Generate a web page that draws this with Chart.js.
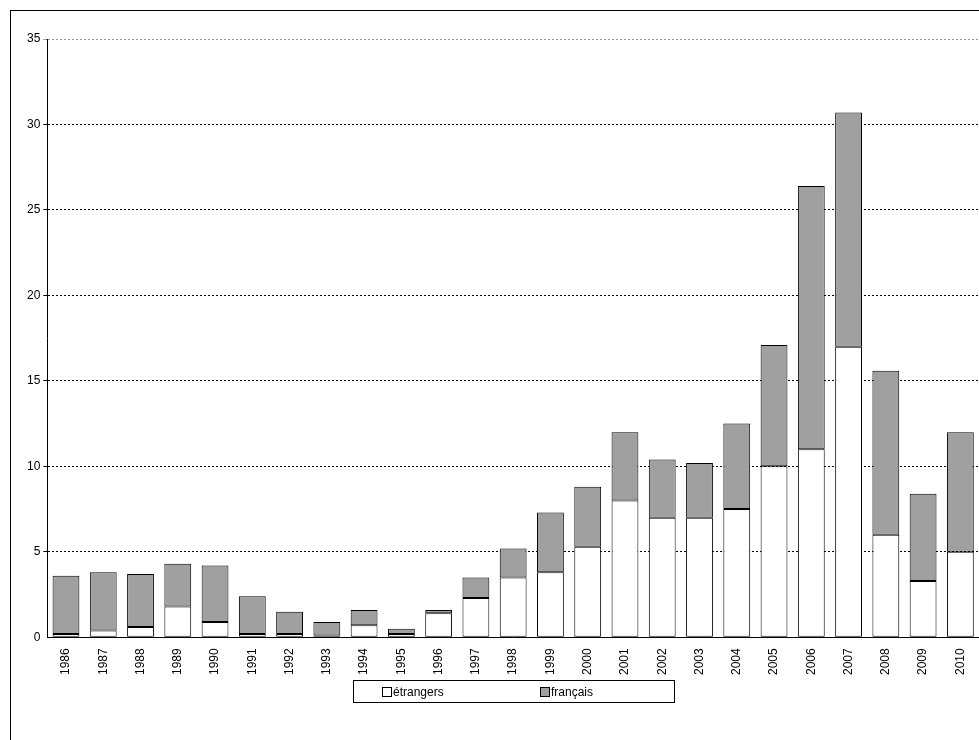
<!DOCTYPE html>
<html>
<head>
<meta charset="utf-8">
<script src="https://cdn.jsdelivr.net/npm/chart.js@4"></script>
<style>
  body { margin: 0; background: #fff; font-family: "Liberation Sans", Arial, sans-serif; }
  #frame { position: absolute; left: 10px; top: 10px; width: 980px; height: 740px; border: 1px solid #000; box-sizing: border-box; }
  #wrap { position: absolute; left: 0; top: 0; width: 979px; height: 740px; }
  #legend { position: absolute; left: 353px; top: 680px; width: 322px; height: 23px; border: 1px solid #000; box-sizing: border-box; font-size: 12px; }
  #legend span { position: absolute; top: 4px; }
  .box { display: inline-block; width: 8px; height: 8px; border: 1px solid #000; margin-right: 1px; vertical-align: -1px; }
</style>
</head>
<body>
<div id="frame"></div>
<div id="wrap"><canvas id="chart" width="979" height="740"></canvas></div>
<div id="legend">
  <span style="left:28px"><i class="box" style="background:#fff"></i>étrangers</span>
  <span style="left:186px"><i class="box" style="background:#a0a0a0"></i>français</span>
</div>
<script>
const years = ['1986','1987','1988','1989','1990','1991','1992','1993','1994','1995','1996','1997','1998','1999','2000','2001','2002','2003','2004','2005','2006','2007','2008','2009','2010'];
const etrangers = [0.2,0.4,0.6,1.8,0.9,0.2,0.2,0.1,0.7,0.2,1.4,2.3,3.5,3.8,5.3,8,7,7,7.5,10,11,17,6,3.3,5];
const totaux = [3.6,3.8,3.7,4.3,4.2,2.4,1.5,0.9,1.6,0.5,1.6,3.5,5.2,7.3,8.8,12,10.4,10.2,12.5,17.1,26.4,30.7,15.6,8.4,12];
const francais = totaux.map((t, i) => +(t - etrangers[i]).toFixed(2));

new Chart(document.getElementById('chart'), {
    type: 'bar',
    data: {
        labels: years,
        datasets: [
            { label: 'étrangers', data: etrangers, backgroundColor: '#ffffff', borderColor: '#000', borderWidth: 1, borderSkipped: false },
            { label: 'français', data: francais, backgroundColor: '#a0a0a0', borderColor: '#000', borderWidth: 1, borderSkipped: false }
        ]
    },
    options: {
        responsive: false,
        animation: false,
        layout: { padding: { left: 24, top: 39, right: 0, bottom: 62 } },
        plugins: { legend: { display: false }, tooltip: { enabled: false } },
        scales: {
            x: {
                stacked: true,
                barThickness: 31,
                grid: { display: false },
                border: { color: '#000' },
                ticks: { color: '#000', font: { size: 12, family: 'Liberation Sans' }, minRotation: 90, maxRotation: 90 }
            },
            y: {
                stacked: true,
                min: 0, max: 35,
                ticks: { stepSize: 5, color: '#000', font: { size: 12, family: 'Liberation Sans' } },
                border: { color: '#000', dash: [2, 2] },
                grid: {
                    tickLength: 4,
                    color: ctx => ctx.tick && ctx.tick.value === 35 ? '#999' : (ctx.tick && ctx.tick.value === 0 ? 'transparent' : '#000'),
                    lineWidth: 1
                }
            }
        }
    }
});
</script>
</body>
</html>
